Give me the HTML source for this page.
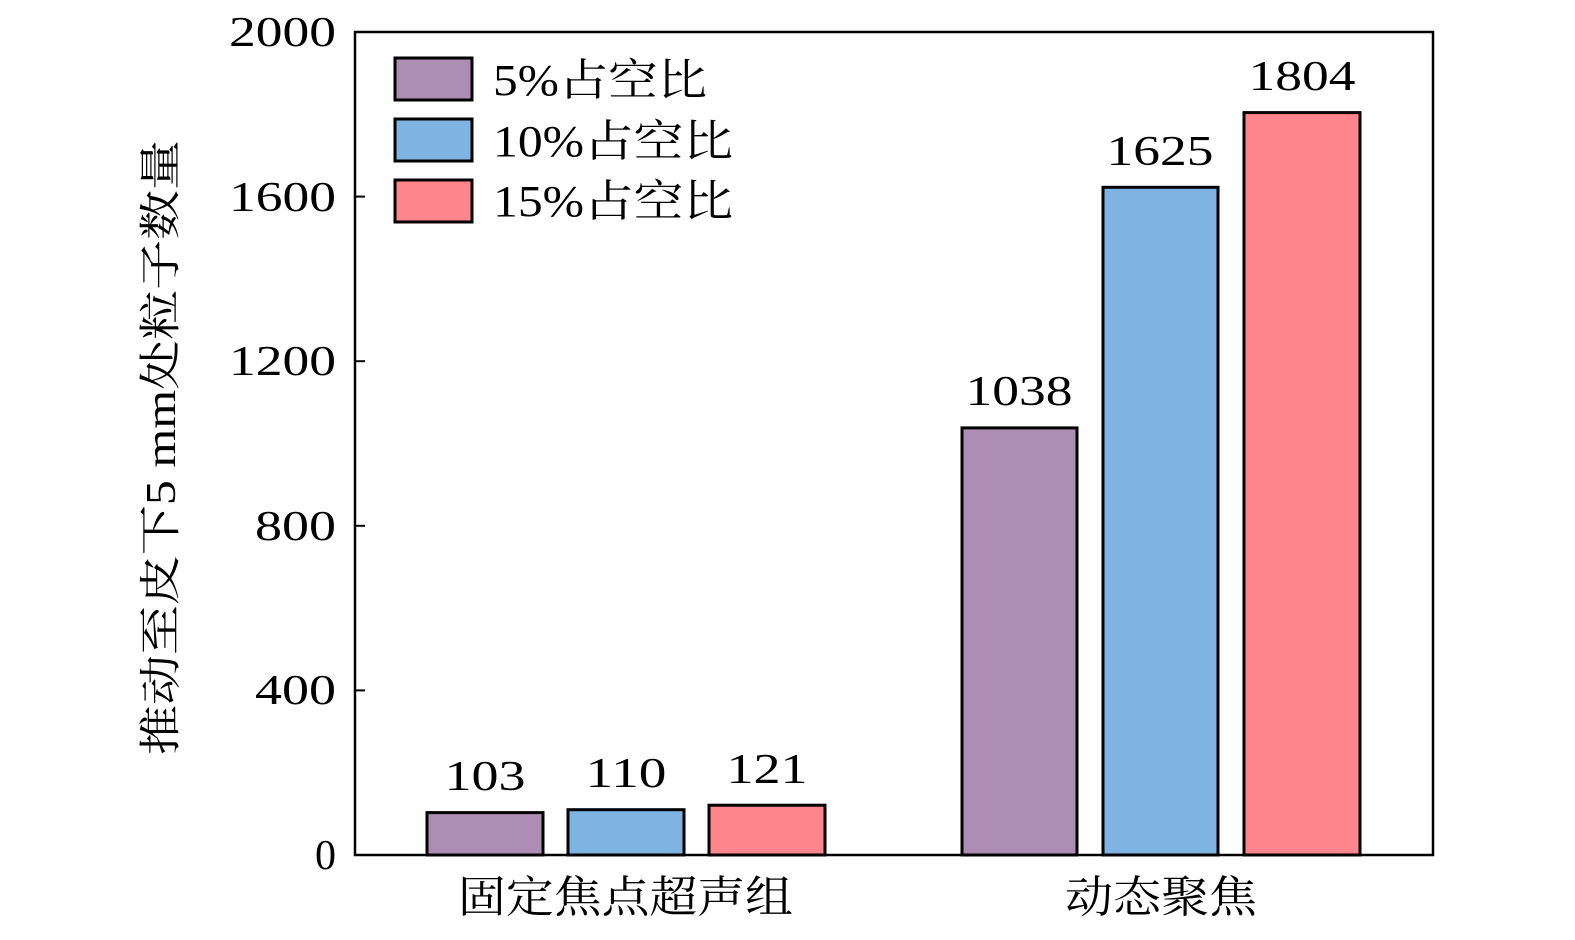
<!DOCTYPE html>
<html><head><meta charset="utf-8"><style>html,body{margin:0;padding:0;background:#fff}</style></head>
<body>
<svg width="1575" height="935" xmlns="http://www.w3.org/2000/svg" font-family="Liberation Serif, Noto Serif CJK SC, serif">
<rect width="1575" height="935" fill="#fff"/>
<g stroke="#000" stroke-width="3">
<rect x="427" y="812.6" width="116" height="42.4" fill="#ae8db5"/>
<rect x="568" y="809.7" width="116" height="45.3" fill="#7fb4e2"/>
<rect x="709" y="805.2" width="116" height="49.8" fill="#fd858c"/>
<rect x="962" y="427.9" width="115" height="427.1" fill="#ae8db5"/>
<rect x="1103" y="187.3" width="115" height="667.7" fill="#7fb4e2"/>
<rect x="1244" y="112.6" width="116" height="742.4" fill="#fd858c"/>
<rect x="395" y="58" width="77" height="42" fill="#ae8db5"/>
<rect x="395" y="119" width="77" height="42" fill="#7fb4e2"/>
<rect x="395" y="180" width="77" height="42" fill="#fd858c"/>
</g>
<rect x="355" y="32" width="1078" height="823" fill="none" stroke="#000" stroke-width="2.5"/>
<g stroke="#000" stroke-width="2">
<line x1="355" y1="690.4" x2="365" y2="690.4"/><line x1="355" y1="525.8" x2="365" y2="525.8"/>
<line x1="355" y1="361.2" x2="365" y2="361.2"/><line x1="355" y1="196.6" x2="365" y2="196.6"/>
</g>
<g font-size="42" text-anchor="end" lengthAdjust="spacingAndGlyphs">
<text x="336" y="869" textLength="27">0</text>
<text x="336" y="704" textLength="81" lengthAdjust="spacingAndGlyphs">400</text>
<text x="336" y="540" textLength="81" lengthAdjust="spacingAndGlyphs">800</text>
<text x="336" y="375" textLength="107" lengthAdjust="spacingAndGlyphs">1200</text>
<text x="336" y="211" textLength="107" lengthAdjust="spacingAndGlyphs">1600</text>
<text x="336" y="46" textLength="107" lengthAdjust="spacingAndGlyphs">2000</text>
</g>
<g font-size="42" text-anchor="middle">
<text x="485" y="790" textLength="81" lengthAdjust="spacingAndGlyphs">103</text>
<text x="626" y="787" textLength="81" lengthAdjust="spacingAndGlyphs">110</text>
<text x="767" y="783" textLength="81" lengthAdjust="spacingAndGlyphs">121</text>
<text x="1019" y="405" textLength="107" lengthAdjust="spacingAndGlyphs">1038</text>
<text x="1160" y="165" textLength="107" lengthAdjust="spacingAndGlyphs">1625</text>
<text x="1302" y="90" textLength="107" lengthAdjust="spacingAndGlyphs">1804</text>
</g>
<g font-size="44">
<text x="493" y="95" textLength="214" lengthAdjust="spacingAndGlyphs">5%占空比</text>
<text x="493" y="156" textLength="240" lengthAdjust="spacingAndGlyphs">10%占空比</text>
<text x="493" y="216" textLength="240" lengthAdjust="spacingAndGlyphs">15%占空比</text>
<text x="458" y="912" textLength="335" lengthAdjust="spacingAndGlyphs">固定焦点超声组</text>
<text x="1065" y="912" textLength="192" lengthAdjust="spacingAndGlyphs">动态聚焦</text>
<text transform="translate(175,755) rotate(-90)" font-size="42" textLength="615" lengthAdjust="spacingAndGlyphs">推动至皮下5 mm处粒子数量</text>
</g>
</svg>
</body></html>
